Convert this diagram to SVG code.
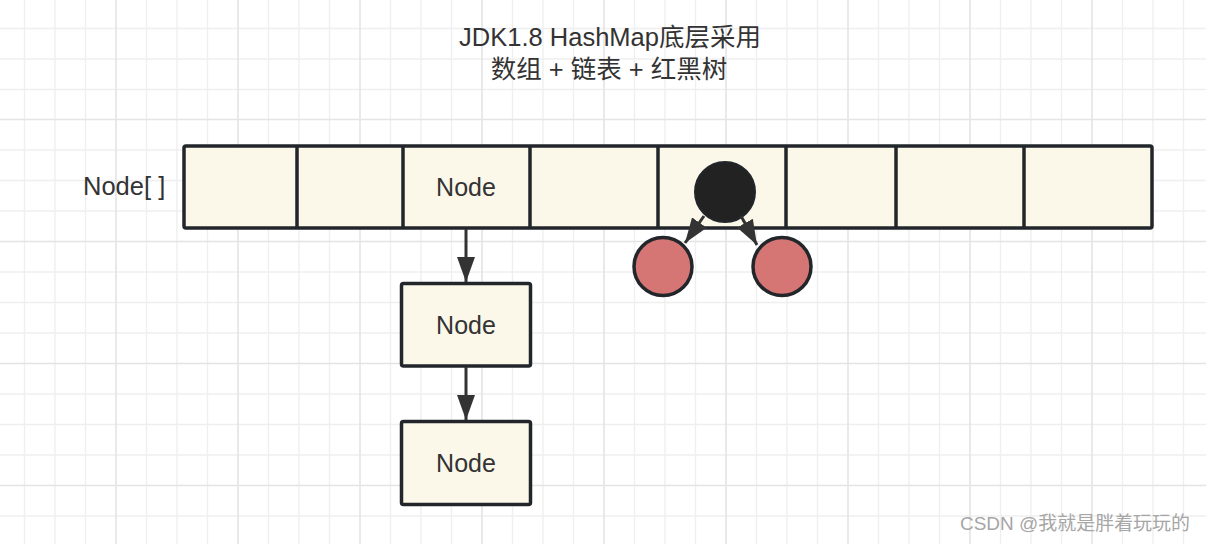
<svg xmlns="http://www.w3.org/2000/svg" width="1206" height="544" viewBox="0 0 1206 544">
<style>
.minor{stroke:#efefef;stroke-width:1.4;fill:none}
.major{stroke:#e4e4e4;stroke-width:1.6;fill:none}
.box{fill:#fbf8ea;stroke:#22262b;stroke-width:3.5}
.div{stroke:#22262b;stroke-width:3.5}
.t{font-family:"Liberation Sans",Arial,"Noto Sans CJK SC",sans-serif;font-size:25px;fill:#333333}
.tt{font-size:25.5px}
.edge{stroke:#333333;stroke-width:3;fill:none}
</style>
<defs>
<marker id="ah" viewBox="0 0 25 18" refX="25" refY="9" markerWidth="25" markerHeight="18" markerUnits="userSpaceOnUse" orient="auto">
<path d="M0,0 L25,9 L0,18 z" fill="#333333"/>
</marker>
</defs>
<rect width="1206" height="544" fill="#ffffff"/>
<g id="grid">
<path class="minor" d="M24.5 0V544M55 0V544M85.5 0V544M146.5 0V544M177 0V544M207.5 0V544M268.5 0V544M299 0V544M329.5 0V544M390.5 0V544M421 0V544M451.5 0V544M512.5 0V544M543 0V544M573.5 0V544M634.5 0V544M665 0V544M695.5 0V544M756.5 0V544M787 0V544M817.5 0V544M878.5 0V544M909 0V544M939.5 0V544M1000.5 0V544M1031 0V544M1061.5 0V544M1122.5 0V544M1153 0V544M1183.5 0V544M0 28.5H1206M0 59H1206M0 89.5H1206M0 150H1206M0 180.5H1206M0 211H1206M0 272H1206M0 302.5H1206M0 333H1206M0 394H1206M0 424.5H1206M0 455H1206M0 516H1206"/>
<path class="major" d="M116 0V544M238 0V544M360 0V544M482 0V544M604 0V544M726 0V544M848 0V544M970 0V544M1092 0V544M0 119.5H1206M0 241.5H1206M0 363.5H1206M0 485.5H1206"/>
</g>
<g id="title">
<text class="t tt" x="610" y="46" text-anchor="middle">JDK1.8 HashMap底层采用</text>
<text class="t tt" x="609" y="78" text-anchor="middle">数组 + 链表 + 红黑树</text>
</g>
<g id="array-label">
<text class="t tt" x="83" y="195">Node[ ]</text>
</g>
<g id="array">
<rect class="box" x="184" y="146" width="968" height="82" rx="2"/>
<path class="div" d="M297 146V228M403 146V228M530 146V228M658 146V228M786 146V228M896 146V228M1024 146V228"/>
<text class="t" x="466" y="196" text-anchor="middle">Node</text>
</g>
<g id="node2">
<rect class="box" x="401.5" y="283.5" width="129" height="82.5" rx="2"/>
<text class="t" x="466" y="334" text-anchor="middle">Node</text>
</g>
<g id="node3">
<rect class="box" x="401.5" y="421.5" width="129" height="83" rx="2"/>
<text class="t" x="466" y="472" text-anchor="middle">Node</text>
</g>
<g id="tree-root">
<circle cx="725" cy="192" r="30" fill="#222222" stroke="#22262b" stroke-width="2"/>
</g>
<g id="tree-left">
<circle cx="663" cy="266.5" r="29" fill="#d57674" stroke="#22262b" stroke-width="3.5"/>
</g>
<g id="tree-right">
<circle cx="782" cy="266.5" r="29" fill="#d57674" stroke="#22262b" stroke-width="3.5"/>
</g>
<g id="connectors">
<path class="edge" d="M466 229V282" marker-end="url(#ah)"/>
<path class="edge" d="M466 367V420" marker-end="url(#ah)"/>
<path class="edge" d="M704 216L685 243" marker-end="url(#ah)"/>
<path class="edge" d="M741 216L757 245" marker-end="url(#ah)"/>
</g>
<g id="watermark">
<text x="1190" y="530" text-anchor="end" font-family="'Liberation Sans','Noto Sans CJK SC',sans-serif" font-size="19" fill="#a6a6a6" textLength="230" lengthAdjust="spacingAndGlyphs">CSDN @我就是胖着玩玩的</text>
</g>
</svg>
